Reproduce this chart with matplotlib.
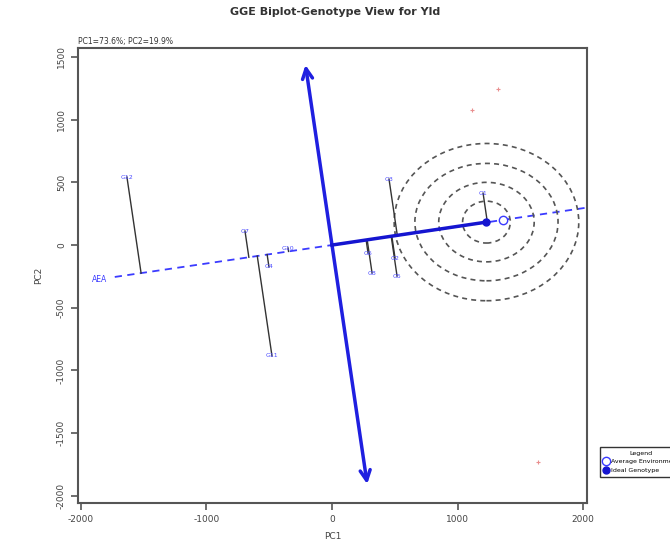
import numpy as np
import matplotlib
matplotlib.use("Agg")
import matplotlib.pyplot as plt
from matplotlib.patches import Ellipse

plt.rcParams["axes.unicode_minus"] = False

# genotype scores (PC1, PC2)
gen_names = ["G12", "G7", "G4", "G11", "G10", "G3", "G6", "G8", "G2", "G5", "G1"]
gen_pc1 = [-1633, -693, -502, -478, -350, 454, 287, 319, 502, 518, 1203]
gen_pc2 = [542, 112, -175, -884, -24, 526, -64, -223, -104, -247, 414]

# environment marks (faint red)
env_pc1 = [1116, 1323, 1641]
env_pc2 = [1076, 1243, -1729]

avg_env = (1360, 200)
ideal_gen = (1230, 183)
ring_rx = [190, 380, 570, 735]
ring_ry = [167, 317, 468, 627]
ordinate_y = [1458, -1928]

fig = plt.figure(figsize=(6.7, 5.6), dpi=100)
ax = fig.add_axes([0.116, 0.102, 0.76, 0.812])

slope = avg_env[1] / avg_env[0]
u = np.array([1.0, slope]) / np.hypot(1.0, slope)

# average environment axis (dashed)
xs = np.array([-1730, 2100])
ax.plot(xs, xs * slope, color="#3b3bff", ls=(0, (4, 3)), lw=1.3, zorder=2)
ax.text(-1850, -1850 * slope, "AEA", color="#3b3bff", fontsize=5.5,
        ha="center", va="center")

# perpendicular axis through origin
oy = np.array(ordinate_y)
ox = -slope * oy
ax.annotate("", xy=(ox[0], oy[0]), xytext=(ox[1], oy[1]),
            arrowprops=dict(arrowstyle="<->", color="#1f1fe0", lw=2.5,
                            mutation_scale=18), zorder=3)

# origin -> ideal genotype
ax.plot([0, ideal_gen[0]], [0, ideal_gen[1]], color="#1515d0", lw=2.5, zorder=3)

# concentric rings round the ideal genotype
for rx, ry in zip(ring_rx, ring_ry):
    ax.add_patch(Ellipse(ideal_gen, 2 * rx, 2 * ry, fill=False, ec="#555555",
                         ls=(0, (3, 2.5)), lw=1.2, zorder=2))

# projections of genotypes onto AEA
gx = np.array(gen_pc1, dtype=float)
gy = np.array(gen_pc2, dtype=float)
proj = gx * u[0] + gy * u[1]
fx = proj * u[0]
fy = proj * u[1]
for i in range(len(gx)):
    ax.plot([gx[i], fx[i]], [gy[i], fy[i]], color="#333333", lw=1.0, zorder=2)
for i in range(len(gx)):
    ax.text(gx[i], gy[i], gen_names[i], color="#4a4aff", fontsize=4.5,
            ha="center", va="center", zorder=4)

ax.plot(env_pc1, env_pc2, "+", color="#e06060", ms=3, mew=0.8, alpha=0.7)

ax.plot(*ideal_gen, "o", color="#1515d0", ms=5, zorder=5, label="Ideal Genotype")
ax.plot(*avg_env, "o", mfc="white", mec="#3b3bff", ms=6, mew=1.0, zorder=5,
        label="Average Environment")

ax.set_xlim(-2025, 2030)
ax.set_ylim(-2056, 1570)
ax.set_xticks([-2000, -1000, 0, 1000, 2000])
ax.set_yticks([-2000, -1500, -1000, -500, 0, 500, 1000, 1500])
ax.tick_params(direction="out", length=5, width=1.2, labelsize=6.5,
               color="#555555", labelcolor="#444444")
for lab in ax.get_yticklabels():
    lab.set_rotation(90)
    lab.set_va("center")
for sp in ax.spines.values():
    sp.set_color("#555555")
    sp.set_linewidth(1.5)

ax.set_xlabel("PC1", fontsize=6.5, color="#444444", labelpad=6)
ax.set_ylabel("PC2", fontsize=6.5, color="#444444", labelpad=10)
fig.text(0.5, 0.979, "GGE Biplot-Genotype View for Yld", fontsize=8,
         fontweight="bold", ha="center", va="center", color="#333333")
ax.text(0.0, 1.005, "PC1=73.6%; PC2=19.9%", transform=ax.transAxes,
        fontsize=5.5, ha="left", va="bottom", color="#333333")

h, l = ax.get_legend_handles_labels()
leg = fig.legend(h[::-1], l[::-1], loc="upper left", bbox_to_anchor=(0.891, 0.207),
                 fontsize=4.5, title="Legend", title_fontsize=4.5, fancybox=False,
                 edgecolor="#333333", framealpha=1, borderpad=0.6,
                 handletextpad=0.3, handlelength=0.8)
leg.get_frame().set_linewidth(1.0)

fig.savefig("out.png", dpi=100)
